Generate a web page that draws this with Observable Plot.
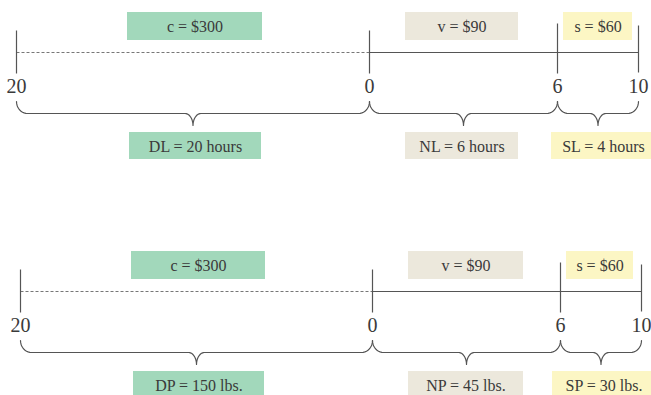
<!DOCTYPE html>
<html><head><meta charset="utf-8">
<script src="https://cdn.jsdelivr.net/npm/d3@7"></script>
<script src="https://cdn.jsdelivr.net/npm/@observablehq/plot@0.6"></script>
<style>body{margin:0;background:#fff}#chart svg{display:block}</style>
</head><body><div id="chart"></div>
<script>
// ---- Data ----
const tickLabels = ["20", "0", "6", "10"];
const costLabels = ["c = $300", "v = $90", "s = $60"];
const hourLabels = ["DL = 20 hours", "NL = 6 hours", "SL = 4 hours"];
const poundLabels = ["DP = 150 lbs.", "NP = 45 lbs.", "SP = 30 lbs."];

// ---- Layout & style ----
const W = 651, H = 395;
const segColors = ["#a2d8bb", "#ece8dc", "#fcf6c4"];
const ink = "#3a3a3a", lineColor = "#555";
const font = "Liberation Serif, Times New Roman, serif";
const panels = [
  {dy: 0, ticksX: [16, 369, 557, 638],
   costBoxes: [[127, 262], [405, 518], [563, 632]],
   lenBoxes: [[129, 261], [405, 518], [551, 655]], labels: hourLabels},
  {dy: 239, ticksX: [20, 372, 560, 641],
   costBoxes: [[131, 265], [408, 523], [566, 633]],
   lenBoxes: [[133, 264], [408, 523], [552, 655]], labels: poundLabels}
];
const tickSpan = [[30, 73], [30, 73], [23, 73], [25, 72]];

const rects = [], boxTexts = [], tickTexts = [], ticks = [], dashed = [], solid = [], braces = [];

function arc(pts, cx, cy, rx, ry, t0, t1, id) {
  const n = 10;
  for (let i = 0; i <= n; i++) {
    const t = t0 + (t1 - t0) * i / n;
    pts.push({x: cx + rx * Math.cos(t), y: cy + ry * Math.sin(t), id});
  }
}
function brace(xa, xb, y0, id) {
  const pts = [], xm = (xa + xb) / 2, er = 11, tr = 8, ry = 12;
  arc(pts, xa + er, y0 - ry, er, ry, Math.PI, Math.PI / 2, id);
  arc(pts, xm - tr, y0 + ry, tr, ry, -Math.PI / 2, 0, id);
  arc(pts, xm + tr, y0 + ry, tr, ry, Math.PI, 1.5 * Math.PI, id);
  arc(pts, xb - er, y0 - ry, er, ry, Math.PI / 2, 0, id);
  return pts;
}

panels.forEach((p, pi) => {
  const dy = p.dy;
  costLabels.forEach((lab, i) => {
    const [a, b] = p.costBoxes[i];
    rects.push({x1: a, x2: b, y1: 12 + dy, y2: 40 + dy, fill: segColors[i]});
    boxTexts.push({x: (a + b) / 2, y: 26 + dy, text: lab});
  });
  p.labels.forEach((lab, i) => {
    const [a, b] = p.lenBoxes[i];
    rects.push({x1: a, x2: b, y1: 132 + dy, y2: 159 + dy, fill: segColors[i]});
    boxTexts.push({x: (a + b) / 2, y: 146 + dy, text: lab});
  });
  tickLabels.forEach((lab, i) => {
    const x = p.ticksX[i];
    ticks.push({x, y1: tickSpan[i][0] + dy, y2: tickSpan[i][1] + dy});
    tickTexts.push({x, y: 86 + dy, text: lab});
  });
  dashed.push({x1: p.ticksX[0], x2: p.ticksX[1], y: 52 + dy});
  solid.push({x1: p.ticksX[1], x2: p.ticksX[3], y: 52 + dy});
  for (let i = 0; i < 3; i++) {
    braces.push(...brace(p.ticksX[i], p.ticksX[i + 1], 113 + dy, pi * 3 + i));
  }
});

const chart = Plot.plot({
  width: W, height: H,
  margin: 0,
  x: {domain: [0, W], range: [0, W], axis: null},
  y: {domain: [0, H], range: [0, H], axis: null},
  color: {type: "identity"},
  style: {background: "#fff"},
  marks: [
    Plot.rect(rects, {x1: "x1", x2: "x2", y1: "y1", y2: "y2", fill: "fill"}),
    Plot.link(dashed, {x1: "x1", x2: "x2", y1: "y", y2: "y", stroke: "#777", strokeWidth: 1, strokeDasharray: "3,2"}),
    Plot.link(solid, {x1: "x1", x2: "x2", y1: "y", y2: "y", stroke: lineColor, strokeWidth: 1.2}),
    Plot.link(ticks, {x1: "x", x2: "x", y1: "y1", y2: "y2", stroke: lineColor, strokeWidth: 1.2}),
    Plot.line(braces, {x: "x", y: "y", z: "id", stroke: lineColor, strokeWidth: 1.2, curve: "linear"}),
    Plot.text(boxTexts, {x: "x", y: "y", text: "text", fill: ink, fontSize: 16, fontFamily: font}),
    Plot.text(tickTexts, {x: "x", y: "y", text: "text", fill: ink, fontSize: 20, fontFamily: font})
  ]
});
document.getElementById("chart").appendChild(chart);
</script>
</body></html>
